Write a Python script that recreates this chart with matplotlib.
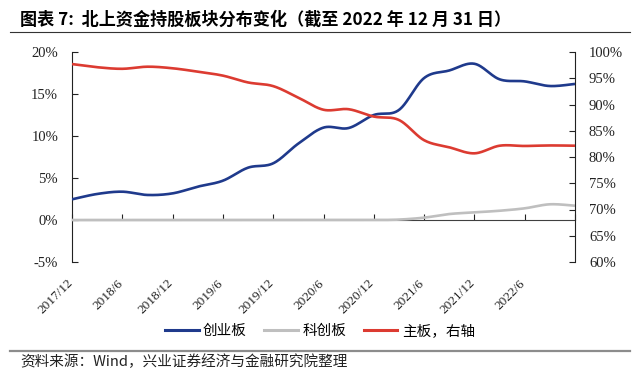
import numpy as np
import matplotlib
matplotlib.use("Agg")
import matplotlib.pyplot as plt
from matplotlib.lines import Line2D
from matplotlib.ticker import FuncFormatter
import matplotlib.transforms as mtransforms

# ---- data (quarterly) ----
periods = ["2017/12", "2018/3", "2018/6", "2018/9", "2018/12", "2019/3", "2019/6",
           "2019/9", "2019/12", "2020/3", "2020/6", "2020/9", "2020/12", "2021/3",
           "2021/6", "2021/9", "2021/12", "2022/3", "2022/6", "2022/9", "2022/12"]
chinext = [2.46, 3.1, 3.37, 2.98, 3.17, 3.97, 4.68, 6.23, 6.75, 9.1, 11.0, 10.95,
           12.5, 13.1, 16.9, 17.8, 18.6, 16.75, 16.5, 15.95, 16.2]
star = [0, 0, 0, 0, 0, 0, 0, 0, 0, 0, 0, 0, 0, 0.05, 0.28, 0.71, 0.91, 1.1, 1.39,
        1.87, 1.7]
main = [97.7, 97.1, 96.8, 97.2, 96.9, 96.25, 95.5, 94.2, 93.5, 91.3, 89.0, 89.1,
        87.7, 87.05, 83.2, 81.85, 80.7, 82.15, 82.1, 82.2, 82.15]
tick_labels = ["2017/12", "2018/6", "2018/12", "2019/6", "2019/12", "2020/6",
               "2020/12", "2021/6", "2021/12", "2022/6"]
series_names = ["创业板", "科创板", "主板，右轴"]

BLUE = "#1F3A8C"
GRAY = "#BFBFBF"
RED = "#DC3B31"

CJK = ["Noto Sans CJK SC", "DejaVu Sans"]
SERIF = ["Liberation Serif", "DejaVu Serif"]


def smooth(y, n=24):
    """Excel-style smoothed line (Bezier through points, Catmull-Rom tangents)."""
    y = np.asarray(y, float)
    x = np.arange(len(y), dtype=float)
    xs, ys = [], []
    for i in range(len(y) - 1):
        p0 = (x[max(i - 1, 0)], y[max(i - 1, 0)])
        p1 = (x[i], y[i])
        p2 = (x[i + 1], y[i + 1])
        p3 = (x[min(i + 2, len(y) - 1)], y[min(i + 2, len(y) - 1)])
        c1 = (p1[0] + (p2[0] - p0[0]) / 6, p1[1] + (p2[1] - p0[1]) / 6)
        c2 = (p2[0] - (p3[0] - p1[0]) / 6, p2[1] - (p3[1] - p1[1]) / 6)
        t = np.linspace(0, 1, n, endpoint=(i == len(y) - 2))
        b0 = (1 - t) ** 3
        b1 = 3 * (1 - t) ** 2 * t
        b2 = 3 * (1 - t) * t ** 2
        b3 = t ** 3
        xs.append(b0 * p1[0] + b1 * c1[0] + b2 * c2[0] + b3 * p2[0])
        ys.append(b0 * p1[1] + b1 * c1[1] + b2 * c2[1] + b3 * p2[1])
    return np.concatenate(xs), np.concatenate(ys)


fig = plt.figure(figsize=(6.4, 3.78), dpi=100)
ax = fig.add_axes([72 / 640, 1 - 262 / 378, (575 - 72) / 640, (262 - 52) / 378])
ax2 = ax.twinx()

lw = 1.9
bx, by = smooth(chinext)
ax.plot(bx, by, color=BLUE, lw=lw, zorder=4, solid_capstyle="butt")
gx, gy = smooth(star)
ax.plot(gx, gy, color=GRAY, lw=lw, zorder=3, solid_capstyle="butt")
rx, ry = smooth(main)
ax2.plot(rx, ry, color=RED, lw=lw, zorder=3, solid_capstyle="butt")

n = len(periods)
ax.set_xlim(0, n - 1)
ax.set_ylim(-5, 20)
ax2.set_ylim(60, 100)
ax.set_yticks(np.arange(-5, 21, 5))
ax2.set_yticks(np.arange(60, 101, 5))
pct = FuncFormatter(lambda v, p: f"{v:.0f}%")
ax.yaxis.set_major_formatter(pct)
ax2.yaxis.set_major_formatter(pct)

for a in (ax, ax2):
    a.spines["top"].set_visible(False)
    a.patch.set_visible(False)
ax2.spines["left"].set_visible(False)
ax2.spines["bottom"].set_visible(False)
ax.spines["right"].set_visible(False)
ax.spines["left"].set_color("#222222")
ax2.spines["right"].set_color("#222222")
ax.spines["bottom"].set_position(("data", 0))
ax.spines["bottom"].set_color("#404040")
ax.spines["bottom"].set_zorder(2)

ax.tick_params(axis="y", direction="in", length=4, width=0.8, pad=10,
               labelsize=10.5, colors="#222222")
ax2.tick_params(axis="y", direction="in", length=4, width=0.8, pad=10,
                labelsize=10.5, colors="#222222")
ticks_x = np.arange(0, n, 2)
ax.set_xticks(ticks_x)
ax.tick_params(axis="x", direction="in", length=4, width=0.8, labelbottom=False,
               color="#222222")

sec = ax.secondary_xaxis(0)
sec.set_xticks(ticks_x[:len(tick_labels)])
sec.set_xticklabels(tick_labels, rotation=45, ha="right", rotation_mode="default")
sec.tick_params(axis="x", length=0, pad=11, labelsize=9.5, colors="#222222")
sec.spines["bottom"].set_visible(False)
shift = mtransforms.ScaledTranslation(3 / 100, 0, fig.dpi_scale_trans)
for lab in sec.get_xticklabels():
    lab.set_transform(lab.get_transform() + shift)

for lab in ax.get_yticklabels() + ax2.get_yticklabels() + sec.get_xticklabels():
    lab.set_family(SERIF)

# legend
handles = [Line2D([], [], color=c, lw=2.2) for c in (BLUE, GRAY, RED)]
fig.legend(handles, series_names, loc="center", bbox_to_anchor=(0.5, 1 - 331 / 378),
           ncol=3, frameon=False, prop={"family": CJK, "size": 10.5},
           handlelength=2.3, columnspacing=1.2, handletextpad=0.3)

# title and source
fig.text(20 / 640, 1 - 20 / 378, "图表 7:  北上资金持股板块分布变化（截至 2022 年 12 月 31 日）",
         family=CJK, fontsize=12.3, fontweight="bold", va="center", ha="left")
fig.add_artist(Line2D([10 / 640, 630 / 640], [1 - 32 / 378, 1 - 32 / 378],
                      color="#333333", lw=0.8))
fig.add_artist(Line2D([10 / 640, 630 / 640], [1 - 351 / 378, 1 - 351 / 378],
                      color="#8C8C8C", lw=1.6))
fig.text(20 / 640, 1 - 362 / 378, "资料来源：Wind，兴业证券经济与金融研究院整理",
         family=CJK, fontsize=10.5, va="center", ha="left", color="#222222")

fig.savefig("out.png", dpi=100)
